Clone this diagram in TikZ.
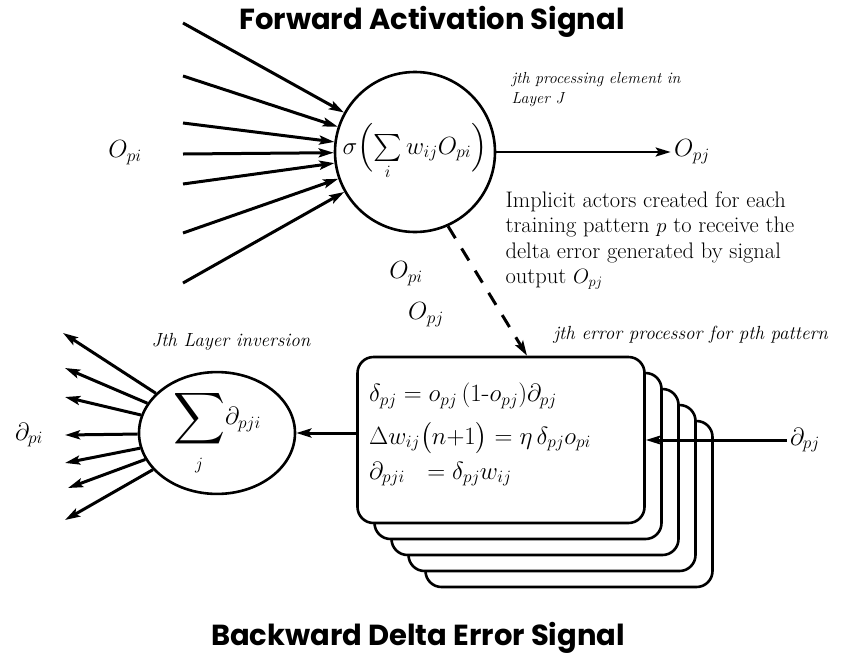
\documentclass[tikz,border=0pt]{standalone}
\usepackage{amsmath,amssymb}
\usepackage{fontspec}
\newfontfamily\headfont{Poppins}
\usetikzlibrary{arrows.meta,positioning,shapes.geometric,calc}

\begin{document}
\begin{tikzpicture}[x=1pt,y=-1pt,
    unit/.style={circle,draw,line width=2.6pt,minimum size=160pt,inner sep=0pt,
      font=\fontsize{27}{30}\selectfont},
    inversion/.style={ellipse,draw,line width=2.6pt,minimum width=156pt,
      minimum height=100pt,inner sep=0pt,font=\fontsize{25}{28}\selectfont},
    procbox/.style={rounded corners=16pt,draw,fill=white,line width=2.6pt,
      minimum width=287pt,minimum height=166pt},
    sig/.style={-{Stealth[length=15pt,width=9pt,inset=3pt]},line width=3pt},
    title/.style={font=\headfont\bfseries\fontsize{29}{32}\selectfont},
    note/.style={font=\itshape\fontsize{16}{20}\selectfont,align=left},
    sym/.style={font=\fontsize{25}{28}\selectfont},
    eqn/.style={anchor=west,inner sep=0pt,font=\fontsize{26}{28}\selectfont}
  ]
  \useasboundingbox (0,0) rectangle (845,659);
  \node[title] (fwd) at (432,22) {Forward Activation Signal};
  \node[title] (bwd) at (418,638) {Backward Delta Error Signal};

  \node[unit] (neuron) at (415,152) {$\sigma\Bigl(\sum\limits_i w_{ij}O_{pi}\Bigr)$};
  \node[sym] (opi) at (125,153) {$O_{pi}$};
  \foreach \i/\y in {1/23,2/76,3/123,4/154,5/184,6/233,7/283}
    \coordinate (in\i) at (183,\y);
  \foreach \i in {1,...,7}
    \draw[sig] (in\i) -- (neuron);
  \node[sym] (opj) at (692,152) {$O_{pj}$};
  \draw[sig,line width=2.4pt] (neuron) -- (opj);
  \node[note,anchor=north west] (unitnote) at (508,69) {jth processing element in\\Layer J};
  \node[anchor=north west,align=left,font=\fontsize{22.5}{25.5}\selectfont] (implicit)
    at (502,188) {Implicit actors created for each\\training pattern $p$ to receive the\\
    delta error generated by signal\\output $O_{pj}$};

  \foreach \i in {4,...,1}
    \node[procbox] (proc\i) at (501+17*\i,440+16*\i) {};
  \node[procbox] (proc0) at (501,440) {};
  \node[eqn] (delta) at (369,396) {$\delta_{pj} = o_{pj}\,(1\text{-}o_{pj})\partial_{pj}$};
  \node[eqn] (dw) at (369,438) {$\Delta w_{ij}\bigl(n{+}1\bigr) =\eta\,\delta_{pj}o_{pi}$};
  \node[eqn] (back) at (369,474) {$\partial_{pji}\ \ =\delta_{pj}w_{ij}$};
  \node[sym] (dpj) at (805,440) {$\partial_{pj}$};
  \draw[sig] (dpj) -- (proc0.east);

  \draw[sig,dash pattern=on 14pt off 12pt] (neuron.-66) -- ([xshift=26pt]proc0.north);
  \node[sym] (opi2) at (406,274) {$O_{pi}$};
  \node[sym] (opj2) at (426,315) {$O_{pj}$};
  \node[note,font=\itshape\fontsize{19}{22}\selectfont,anchor=west] (errnote)
    at (550,335) {jth error processor for pth pattern};

  \node[inversion] (inv) at (217,433)
    {{\fontsize{36}{38}\selectfont$\displaystyle\sum_{\scriptscriptstyle j}$}$\partial_{pji}$};
  \node[note,font=\itshape\fontsize{19}{22}\selectfont,anchor=west] (invnote)
    at (148,342) {Jth Layer inversion};
  \draw[sig] (inv.east -| proc0.west) -- (inv.east);
  \foreach \i/\x/\y in {1/63/333,2/65/368,3/65/397,4/65/435,5/65/463,6/68/488,7/65/520}
    \coordinate (out\i) at (\x,\y);
  \foreach \i in {1,...,7}
    \draw[sig] (inv) -- (out\i);
  \node[sym] (dpi) at (29,435) {$\partial_{pi}$};
\end{tikzpicture}
\end{document}
